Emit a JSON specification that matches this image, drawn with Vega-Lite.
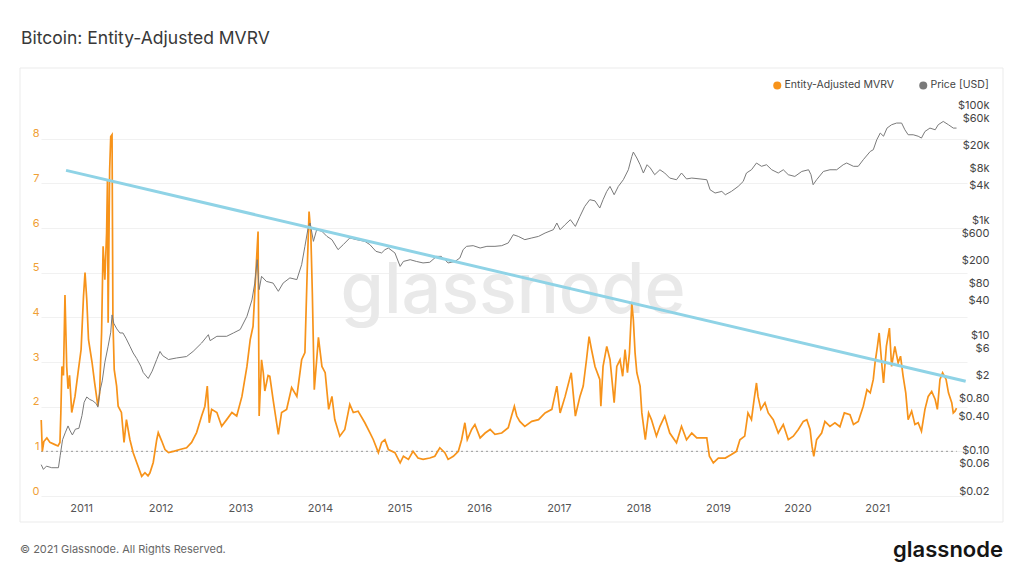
{
  "$schema": "https://vega.github.io/schema/vega-lite/v6.json",
  "usermeta": {"embedOptions": {"renderer": "svg", "actions": false}},
  "width": 926,
  "height": 402,
  "autosize": "none",
  "padding": {"left": 41, "top": 94, "right": 57, "bottom": 80},
  "title": {
    "text": "Bitcoin: Entity-Adjusted MVRV",
    "anchor": "start",
    "frame": "group",
    "dx": -20,
    "offset": 20,
    "fontSize": 17.5,
    "fontWeight": "normal",
    "color": "#383838"
  },
  "datasets": {
    "mvrv": [
      {"date": "2010-07-02", "mvrv": 1.7}, {"date": "2010-07-07", "mvrv": 1.0}, {"date": "2010-07-14", "mvrv": 1.22},
      {"date": "2010-07-28", "mvrv": 1.3}, {"date": "2010-08-11", "mvrv": 1.2}, {"date": "2010-09-03", "mvrv": 1.15},
      {"date": "2010-09-17", "mvrv": 1.12}, {"date": "2010-09-26", "mvrv": 1.2}, {"date": "2010-09-30", "mvrv": 1.85},
      {"date": "2010-10-05", "mvrv": 2.9}, {"date": "2010-10-12", "mvrv": 2.7}, {"date": "2010-10-19", "mvrv": 4.5},
      {"date": "2010-10-27", "mvrv": 2.9}, {"date": "2010-11-02", "mvrv": 2.4}, {"date": "2010-11-09", "mvrv": 2.7},
      {"date": "2010-11-19", "mvrv": 1.87}, {"date": "2010-12-04", "mvrv": 2.23}, {"date": "2010-12-18", "mvrv": 2.76},
      {"date": "2011-01-01", "mvrv": 3.28}, {"date": "2011-01-12", "mvrv": 4.47}, {"date": "2011-01-19", "mvrv": 5.0},
      {"date": "2011-01-27", "mvrv": 4.4}, {"date": "2011-02-04", "mvrv": 3.5}, {"date": "2011-02-20", "mvrv": 3.0},
      {"date": "2011-03-04", "mvrv": 2.54}, {"date": "2011-03-19", "mvrv": 2.01}, {"date": "2011-03-27", "mvrv": 2.31},
      {"date": "2011-04-05", "mvrv": 3.66}, {"date": "2011-04-12", "mvrv": 5.59}, {"date": "2011-04-20", "mvrv": 4.84},
      {"date": "2011-04-28", "mvrv": 5.89}, {"date": "2011-05-02", "mvrv": 7.08}, {"date": "2011-05-05", "mvrv": 3.88},
      {"date": "2011-05-12", "mvrv": 7.3}, {"date": "2011-05-17", "mvrv": 8.05}, {"date": "2011-05-23", "mvrv": 8.09},
      {"date": "2011-05-27", "mvrv": 3.95}, {"date": "2011-06-02", "mvrv": 2.83}, {"date": "2011-06-13", "mvrv": 2.46},
      {"date": "2011-06-20", "mvrv": 2.01}, {"date": "2011-07-05", "mvrv": 1.87}, {"date": "2011-07-17", "mvrv": 1.2},
      {"date": "2011-07-28", "mvrv": 1.71}, {"date": "2011-08-13", "mvrv": 1.26}, {"date": "2011-08-28", "mvrv": 0.97},
      {"date": "2011-09-13", "mvrv": 0.75}, {"date": "2011-10-06", "mvrv": 0.44}, {"date": "2011-10-21", "mvrv": 0.52},
      {"date": "2011-11-04", "mvrv": 0.45}, {"date": "2011-11-13", "mvrv": 0.52}, {"date": "2011-11-28", "mvrv": 0.75},
      {"date": "2011-12-14", "mvrv": 1.26}, {"date": "2011-12-21", "mvrv": 1.42}, {"date": "2012-01-06", "mvrv": 1.23},
      {"date": "2012-01-21", "mvrv": 1.04}, {"date": "2012-02-06", "mvrv": 0.97}, {"date": "2012-02-29", "mvrv": 1.0},
      {"date": "2012-03-29", "mvrv": 1.04}, {"date": "2012-04-29", "mvrv": 1.08}, {"date": "2012-05-22", "mvrv": 1.2},
      {"date": "2012-06-14", "mvrv": 1.42}, {"date": "2012-07-07", "mvrv": 1.79}, {"date": "2012-07-22", "mvrv": 2.01},
      {"date": "2012-08-02", "mvrv": 2.46}, {"date": "2012-08-11", "mvrv": 1.64}, {"date": "2012-08-22", "mvrv": 1.94},
      {"date": "2012-09-15", "mvrv": 1.87}, {"date": "2012-10-07", "mvrv": 1.56}, {"date": "2012-10-30", "mvrv": 1.71},
      {"date": "2012-11-23", "mvrv": 1.87}, {"date": "2012-12-15", "mvrv": 1.79}, {"date": "2013-01-08", "mvrv": 2.23},
      {"date": "2013-01-31", "mvrv": 2.9}, {"date": "2013-02-15", "mvrv": 3.5}, {"date": "2013-02-28", "mvrv": 3.8},
      {"date": "2013-03-08", "mvrv": 4.55}, {"date": "2013-03-16", "mvrv": 5.29}, {"date": "2013-03-23", "mvrv": 5.92},
      {"date": "2013-03-28", "mvrv": 1.79}, {"date": "2013-04-08", "mvrv": 3.05}, {"date": "2013-04-16", "mvrv": 2.76},
      {"date": "2013-04-23", "mvrv": 2.35}, {"date": "2013-05-08", "mvrv": 2.7}, {"date": "2013-05-16", "mvrv": 2.68},
      {"date": "2013-05-31", "mvrv": 2.16}, {"date": "2013-06-24", "mvrv": 1.38}, {"date": "2013-07-09", "mvrv": 1.87},
      {"date": "2013-08-01", "mvrv": 1.94}, {"date": "2013-08-24", "mvrv": 2.43}, {"date": "2013-09-17", "mvrv": 2.23},
      {"date": "2013-10-09", "mvrv": 3.05}, {"date": "2013-10-24", "mvrv": 3.21}, {"date": "2013-11-05", "mvrv": 5.29},
      {"date": "2013-11-12", "mvrv": 6.37}, {"date": "2013-11-20", "mvrv": 5.89}, {"date": "2013-11-27", "mvrv": 4.55},
      {"date": "2013-12-06", "mvrv": 2.38}, {"date": "2013-12-17", "mvrv": 3.05}, {"date": "2013-12-25", "mvrv": 3.55},
      {"date": "2014-01-10", "mvrv": 2.9}, {"date": "2014-01-25", "mvrv": 2.76}, {"date": "2014-02-10", "mvrv": 1.94},
      {"date": "2014-02-25", "mvrv": 2.23}, {"date": "2014-03-10", "mvrv": 1.71}, {"date": "2014-04-02", "mvrv": 1.34},
      {"date": "2014-04-25", "mvrv": 1.49}, {"date": "2014-05-18", "mvrv": 2.05}, {"date": "2014-06-03", "mvrv": 1.87},
      {"date": "2014-06-25", "mvrv": 1.9}, {"date": "2014-07-26", "mvrv": 1.64}, {"date": "2014-08-18", "mvrv": 1.42},
      {"date": "2014-09-03", "mvrv": 1.26}, {"date": "2014-09-26", "mvrv": 0.97}, {"date": "2014-10-11", "mvrv": 1.2},
      {"date": "2014-10-26", "mvrv": 1.26}, {"date": "2014-11-11", "mvrv": 1.04}, {"date": "2014-12-11", "mvrv": 0.97},
      {"date": "2015-01-04", "mvrv": 0.74}, {"date": "2015-01-19", "mvrv": 0.89}, {"date": "2015-02-11", "mvrv": 0.82},
      {"date": "2015-03-04", "mvrv": 1.0}, {"date": "2015-03-27", "mvrv": 0.85}, {"date": "2015-04-19", "mvrv": 0.82},
      {"date": "2015-05-20", "mvrv": 0.85}, {"date": "2015-06-12", "mvrv": 0.89}, {"date": "2015-07-05", "mvrv": 1.08},
      {"date": "2015-07-28", "mvrv": 0.97}, {"date": "2015-08-12", "mvrv": 0.82}, {"date": "2015-09-05", "mvrv": 0.89},
      {"date": "2015-09-28", "mvrv": 1.0}, {"date": "2015-10-13", "mvrv": 1.26}, {"date": "2015-10-28", "mvrv": 1.64},
      {"date": "2015-11-08", "mvrv": 1.26}, {"date": "2015-11-28", "mvrv": 1.49}, {"date": "2015-12-13", "mvrv": 1.6},
      {"date": "2016-01-06", "mvrv": 1.3}, {"date": "2016-01-29", "mvrv": 1.41}, {"date": "2016-02-21", "mvrv": 1.49},
      {"date": "2016-03-14", "mvrv": 1.38}, {"date": "2016-04-14", "mvrv": 1.41}, {"date": "2016-05-14", "mvrv": 1.53},
      {"date": "2016-05-29", "mvrv": 1.79}, {"date": "2016-06-11", "mvrv": 2.01}, {"date": "2016-06-22", "mvrv": 1.79},
      {"date": "2016-07-06", "mvrv": 1.67}, {"date": "2016-07-29", "mvrv": 1.56}, {"date": "2016-08-30", "mvrv": 1.67},
      {"date": "2016-09-30", "mvrv": 1.71}, {"date": "2016-10-30", "mvrv": 1.86}, {"date": "2016-11-30", "mvrv": 1.94},
      {"date": "2016-12-23", "mvrv": 2.46}, {"date": "2017-01-07", "mvrv": 1.86}, {"date": "2017-01-30", "mvrv": 2.23},
      {"date": "2017-02-27", "mvrv": 2.76}, {"date": "2017-03-18", "mvrv": 1.79}, {"date": "2017-04-08", "mvrv": 2.23},
      {"date": "2017-04-23", "mvrv": 2.46}, {"date": "2017-05-08", "mvrv": 3.05}, {"date": "2017-05-20", "mvrv": 3.57},
      {"date": "2017-05-31", "mvrv": 3.28}, {"date": "2017-06-16", "mvrv": 2.9}, {"date": "2017-07-08", "mvrv": 2.61},
      {"date": "2017-07-13", "mvrv": 2.01}, {"date": "2017-07-23", "mvrv": 2.9}, {"date": "2017-08-09", "mvrv": 3.35},
      {"date": "2017-08-24", "mvrv": 3.05}, {"date": "2017-09-12", "mvrv": 2.09}, {"date": "2017-09-24", "mvrv": 2.9},
      {"date": "2017-10-09", "mvrv": 3.05}, {"date": "2017-10-21", "mvrv": 2.68}, {"date": "2017-11-01", "mvrv": 3.28},
      {"date": "2017-11-12", "mvrv": 2.76}, {"date": "2017-11-21", "mvrv": 3.2}, {"date": "2017-12-02", "mvrv": 4.32},
      {"date": "2017-12-09", "mvrv": 3.95}, {"date": "2017-12-17", "mvrv": 3.2}, {"date": "2017-12-25", "mvrv": 2.76},
      {"date": "2018-01-09", "mvrv": 2.46}, {"date": "2018-01-17", "mvrv": 1.86}, {"date": "2018-02-02", "mvrv": 1.26},
      {"date": "2018-02-17", "mvrv": 1.86}, {"date": "2018-03-02", "mvrv": 1.71}, {"date": "2018-03-25", "mvrv": 1.34},
      {"date": "2018-04-10", "mvrv": 1.56}, {"date": "2018-05-02", "mvrv": 1.79}, {"date": "2018-05-25", "mvrv": 1.41},
      {"date": "2018-06-25", "mvrv": 1.19}, {"date": "2018-07-18", "mvrv": 1.56}, {"date": "2018-08-10", "mvrv": 1.26},
      {"date": "2018-09-03", "mvrv": 1.41}, {"date": "2018-09-26", "mvrv": 1.3}, {"date": "2018-11-11", "mvrv": 1.3},
      {"date": "2018-11-23", "mvrv": 0.89}, {"date": "2018-12-11", "mvrv": 0.74}, {"date": "2019-01-03", "mvrv": 0.85},
      {"date": "2019-02-04", "mvrv": 0.85}, {"date": "2019-03-04", "mvrv": 0.93}, {"date": "2019-03-27", "mvrv": 1.0},
      {"date": "2019-04-12", "mvrv": 1.26}, {"date": "2019-05-04", "mvrv": 1.34}, {"date": "2019-05-19", "mvrv": 1.86},
      {"date": "2019-06-04", "mvrv": 1.71}, {"date": "2019-06-16", "mvrv": 2.16}, {"date": "2019-06-27", "mvrv": 2.53},
      {"date": "2019-07-04", "mvrv": 2.23}, {"date": "2019-07-17", "mvrv": 1.94}, {"date": "2019-08-05", "mvrv": 2.09},
      {"date": "2019-08-20", "mvrv": 1.86}, {"date": "2019-09-12", "mvrv": 1.71}, {"date": "2019-10-05", "mvrv": 1.41},
      {"date": "2019-10-28", "mvrv": 1.6}, {"date": "2019-11-20", "mvrv": 1.26}, {"date": "2019-12-13", "mvrv": 1.34},
      {"date": "2020-01-05", "mvrv": 1.49}, {"date": "2020-01-28", "mvrv": 1.67}, {"date": "2020-02-13", "mvrv": 1.71},
      {"date": "2020-02-28", "mvrv": 1.49}, {"date": "2020-03-08", "mvrv": 1.11}, {"date": "2020-03-16", "mvrv": 0.89},
      {"date": "2020-03-29", "mvrv": 1.26}, {"date": "2020-04-21", "mvrv": 1.41}, {"date": "2020-05-06", "mvrv": 1.67},
      {"date": "2020-05-29", "mvrv": 1.56}, {"date": "2020-06-21", "mvrv": 1.64}, {"date": "2020-07-14", "mvrv": 1.55},
      {"date": "2020-08-03", "mvrv": 1.86}, {"date": "2020-08-29", "mvrv": 1.82}, {"date": "2020-09-14", "mvrv": 1.6},
      {"date": "2020-10-06", "mvrv": 1.67}, {"date": "2020-10-29", "mvrv": 2.01}, {"date": "2020-11-15", "mvrv": 2.38},
      {"date": "2020-11-30", "mvrv": 2.31}, {"date": "2020-12-14", "mvrv": 2.61}, {"date": "2020-12-22", "mvrv": 2.98},
      {"date": "2021-01-02", "mvrv": 3.35}, {"date": "2021-01-10", "mvrv": 3.65}, {"date": "2021-01-23", "mvrv": 2.9},
      {"date": "2021-01-30", "mvrv": 2.53}, {"date": "2021-02-12", "mvrv": 3.35}, {"date": "2021-02-26", "mvrv": 3.76},
      {"date": "2021-03-08", "mvrv": 2.9}, {"date": "2021-03-23", "mvrv": 3.35}, {"date": "2021-04-07", "mvrv": 2.98},
      {"date": "2021-04-18", "mvrv": 3.13}, {"date": "2021-04-30", "mvrv": 2.68}, {"date": "2021-05-12", "mvrv": 2.31},
      {"date": "2021-05-23", "mvrv": 1.71}, {"date": "2021-06-08", "mvrv": 1.9}, {"date": "2021-06-23", "mvrv": 1.6},
      {"date": "2021-07-08", "mvrv": 1.64}, {"date": "2021-07-23", "mvrv": 1.45}, {"date": "2021-08-08", "mvrv": 1.94},
      {"date": "2021-08-23", "mvrv": 2.23}, {"date": "2021-09-08", "mvrv": 2.34}, {"date": "2021-09-24", "mvrv": 2.16},
      {"date": "2021-10-04", "mvrv": 1.94}, {"date": "2021-10-16", "mvrv": 2.61}, {"date": "2021-10-28", "mvrv": 2.76},
      {"date": "2021-11-13", "mvrv": 2.61}, {"date": "2021-11-24", "mvrv": 2.31}, {"date": "2021-12-09", "mvrv": 2.09},
      {"date": "2021-12-16", "mvrv": 1.86}, {"date": "2021-12-24", "mvrv": 1.9}, {"date": "2021-12-31", "mvrv": 1.97}
    ],
    "price": [
      {"date": "2010-07-02", "price": 0.07}, {"date": "2010-07-12", "price": 0.058}, {"date": "2010-07-26", "price": 0.066},
      {"date": "2010-08-19", "price": 0.062}, {"date": "2010-09-19", "price": 0.062}, {"date": "2010-09-27", "price": 0.1},
      {"date": "2010-10-08", "price": 0.19}, {"date": "2010-10-20", "price": 0.25}, {"date": "2010-11-02", "price": 0.33},
      {"date": "2010-11-12", "price": 0.27}, {"date": "2010-11-22", "price": 0.23}, {"date": "2010-12-06", "price": 0.29},
      {"date": "2010-12-22", "price": 0.3}, {"date": "2011-01-05", "price": 0.5}, {"date": "2011-01-15", "price": 0.85},
      {"date": "2011-01-27", "price": 1.05}, {"date": "2011-02-10", "price": 0.95}, {"date": "2011-02-24", "price": 0.9},
      {"date": "2011-03-12", "price": 0.8}, {"date": "2011-03-19", "price": 0.7}, {"date": "2011-03-28", "price": 1.3},
      {"date": "2011-04-08", "price": 2.0}, {"date": "2011-04-20", "price": 4.2}, {"date": "2011-05-05", "price": 8.0},
      {"date": "2011-05-17", "price": 14}, {"date": "2011-05-23", "price": 28}, {"date": "2011-05-31", "price": 20},
      {"date": "2011-06-14", "price": 16}, {"date": "2011-06-28", "price": 13.6}, {"date": "2011-07-12", "price": 13.6},
      {"date": "2011-07-26", "price": 11}, {"date": "2011-08-13", "price": 8}, {"date": "2011-08-28", "price": 6.1},
      {"date": "2011-09-13", "price": 4.9}, {"date": "2011-10-02", "price": 3.6}, {"date": "2011-10-13", "price": 2.8},
      {"date": "2011-11-05", "price": 2.2}, {"date": "2011-11-23", "price": 2.95}, {"date": "2011-12-14", "price": 4.7},
      {"date": "2011-12-29", "price": 6.5}, {"date": "2012-01-10", "price": 5.5}, {"date": "2012-02-06", "price": 4.7},
      {"date": "2012-03-14", "price": 5.0}, {"date": "2012-04-29", "price": 5.3}, {"date": "2012-05-29", "price": 6.5},
      {"date": "2012-07-07", "price": 9.1}, {"date": "2012-08-07", "price": 12.7}, {"date": "2012-08-15", "price": 10},
      {"date": "2012-09-15", "price": 11.9}, {"date": "2012-10-30", "price": 11.9}, {"date": "2012-11-30", "price": 13.6},
      {"date": "2012-12-31", "price": 15.6}, {"date": "2013-01-31", "price": 26.5}, {"date": "2013-02-23", "price": 51},
      {"date": "2013-03-08", "price": 100}, {"date": "2013-03-19", "price": 255}, {"date": "2013-03-28", "price": 77},
      {"date": "2013-04-08", "price": 131}, {"date": "2013-04-30", "price": 107}, {"date": "2013-05-31", "price": 100},
      {"date": "2013-06-24", "price": 72}, {"date": "2013-07-16", "price": 100}, {"date": "2013-08-16", "price": 123},
      {"date": "2013-09-17", "price": 115}, {"date": "2013-10-09", "price": 209}, {"date": "2013-10-24", "price": 435},
      {"date": "2013-11-09", "price": 966}, {"date": "2013-11-17", "price": 1106}, {"date": "2013-12-02", "price": 531},
      {"date": "2013-12-17", "price": 847}, {"date": "2014-01-10", "price": 792}, {"date": "2014-02-02", "price": 648},
      {"date": "2014-02-25", "price": 568}, {"date": "2014-03-25", "price": 381}, {"date": "2014-04-18", "price": 466},
      {"date": "2014-05-18", "price": 608}, {"date": "2014-06-18", "price": 568}, {"date": "2014-07-26", "price": 531},
      {"date": "2014-08-18", "price": 466}, {"date": "2014-09-15", "price": 356}, {"date": "2014-10-11", "price": 334},
      {"date": "2014-10-26", "price": 380}, {"date": "2014-11-11", "price": 407}, {"date": "2014-12-11", "price": 334},
      {"date": "2015-01-04", "price": 195}, {"date": "2015-01-19", "price": 238}, {"date": "2015-02-19", "price": 255},
      {"date": "2015-03-19", "price": 238}, {"date": "2015-04-19", "price": 224}, {"date": "2015-05-20", "price": 230},
      {"date": "2015-06-20", "price": 291}, {"date": "2015-07-12", "price": 291}, {"date": "2015-08-12", "price": 224},
      {"date": "2015-09-13", "price": 238}, {"date": "2015-10-05", "price": 273}, {"date": "2015-10-20", "price": 381},
      {"date": "2015-11-05", "price": 435}, {"date": "2015-12-05", "price": 447}, {"date": "2016-01-06", "price": 407},
      {"date": "2016-02-06", "price": 435}, {"date": "2016-03-14", "price": 435}, {"date": "2016-04-14", "price": 447},
      {"date": "2016-05-14", "price": 498}, {"date": "2016-06-06", "price": 693}, {"date": "2016-06-29", "price": 648},
      {"date": "2016-07-29", "price": 568}, {"date": "2016-08-30", "price": 608}, {"date": "2016-09-30", "price": 648},
      {"date": "2016-10-30", "price": 741}, {"date": "2016-12-07", "price": 847}, {"date": "2016-12-23", "price": 1106},
      {"date": "2017-01-07", "price": 847}, {"date": "2017-01-30", "price": 1035}, {"date": "2017-02-23", "price": 1262},
      {"date": "2017-03-18", "price": 966}, {"date": "2017-04-08", "price": 1442}, {"date": "2017-04-30", "price": 2150},
      {"date": "2017-05-23", "price": 2810}, {"date": "2017-06-16", "price": 2680}, {"date": "2017-07-08", "price": 2015},
      {"date": "2017-07-23", "price": 2810}, {"date": "2017-08-09", "price": 3917}, {"date": "2017-08-24", "price": 4780},
      {"date": "2017-09-12", "price": 3428}, {"date": "2017-10-01", "price": 4780}, {"date": "2017-10-24", "price": 6250},
      {"date": "2017-11-16", "price": 9310}, {"date": "2017-12-02", "price": 15850}, {"date": "2017-12-09", "price": 18900},
      {"date": "2017-12-25", "price": 14900}, {"date": "2018-01-09", "price": 11380}, {"date": "2018-01-24", "price": 8170},
      {"date": "2018-02-10", "price": 11380}, {"date": "2018-02-25", "price": 9980}, {"date": "2018-03-17", "price": 7640},
      {"date": "2018-04-10", "price": 9310}, {"date": "2018-05-02", "price": 8170}, {"date": "2018-05-25", "price": 6680},
      {"date": "2018-06-25", "price": 6250}, {"date": "2018-07-18", "price": 8170}, {"date": "2018-08-10", "price": 6450},
      {"date": "2018-09-03", "price": 6680}, {"date": "2018-10-11", "price": 6450}, {"date": "2018-11-11", "price": 6250},
      {"date": "2018-11-26", "price": 4190}, {"date": "2018-12-19", "price": 3670}, {"date": "2019-01-19", "price": 3917},
      {"date": "2019-02-04", "price": 3428}, {"date": "2019-03-04", "price": 3917}, {"date": "2019-04-04", "price": 4780},
      {"date": "2019-04-27", "price": 5830}, {"date": "2019-05-12", "price": 8170}, {"date": "2019-06-04", "price": 9310},
      {"date": "2019-06-27", "price": 12190}, {"date": "2019-07-20", "price": 10690}, {"date": "2019-08-12", "price": 11380},
      {"date": "2019-09-05", "price": 9310}, {"date": "2019-10-05", "price": 8170}, {"date": "2019-10-28", "price": 9310},
      {"date": "2019-11-20", "price": 7640}, {"date": "2019-12-20", "price": 7130}, {"date": "2020-01-21", "price": 8700},
      {"date": "2020-02-21", "price": 9310}, {"date": "2020-03-03", "price": 7640}, {"date": "2020-03-13", "price": 5120},
      {"date": "2020-03-29", "price": 6250}, {"date": "2020-04-29", "price": 8700}, {"date": "2020-05-29", "price": 9310},
      {"date": "2020-06-29", "price": 9310}, {"date": "2020-07-29", "price": 11380}, {"date": "2020-08-14", "price": 12190},
      {"date": "2020-09-14", "price": 10690}, {"date": "2020-10-06", "price": 10690}, {"date": "2020-10-29", "price": 13900},
      {"date": "2020-11-30", "price": 19360}, {"date": "2020-12-14", "price": 20750}, {"date": "2020-12-30", "price": 30900},
      {"date": "2021-01-15", "price": 40450}, {"date": "2021-01-30", "price": 35600}, {"date": "2021-02-15", "price": 49300},
      {"date": "2021-03-08", "price": 56360}, {"date": "2021-03-31", "price": 60300}, {"date": "2021-04-23", "price": 60300},
      {"date": "2021-05-08", "price": 46100}, {"date": "2021-05-23", "price": 37760}, {"date": "2021-06-15", "price": 37760},
      {"date": "2021-07-08", "price": 35600}, {"date": "2021-07-23", "price": 33100}, {"date": "2021-08-08", "price": 43050},
      {"date": "2021-08-31", "price": 49300}, {"date": "2021-09-24", "price": 46100}, {"date": "2021-10-08", "price": 56360},
      {"date": "2021-10-31", "price": 64300}, {"date": "2021-11-24", "price": 56360}, {"date": "2021-12-16", "price": 49300},
      {"date": "2021-12-31", "price": 49300}
    ],
    "trend": [
      {"date": "2010-10-24", "mvrv": 7.29},
      {"date": "2022-02-11", "mvrv": 2.57}
    ],
    "breakeven": [
      {"start": "2010-07-01", "end": "2022-01-01", "level": 1}
    ]
  },
  "layer": [
    {
      "layer": [
        {
          "data": {"values": [{}]},
          "mark": {"type": "rect", "filled": false, "stroke": "#ebebeb", "strokeWidth": 1},
          "encoding": {"x": {"value": -21}, "x2": {"value": 962}, "y": {"value": -26}, "y2": {"value": 428}}
        },
        {
          "data": {"values": [{}]},
          "mark": {"type": "text", "text": "© 2021 Glassnode. All Rights Reserved.", "align": "left", "baseline": "middle", "fontSize": 11, "color": "#666666"},
          "encoding": {"x": {"value": -21}, "y": {"value": 456}}
        },
        {
          "data": {"values": [{}]},
          "mark": {"type": "text", "text": "glassnode", "align": "right", "baseline": "alphabetic", "fontSize": 22, "fontWeight": 600, "color": "#151515"},
          "encoding": {"x": {"value": 962}, "y": {"value": 463}}
        },
        {
          "data": {"values": [{}]},
          "mark": {"type": "text", "text": "glassnode", "align": "center", "baseline": "alphabetic", "fontSize": 70, "fontWeight": 500, "color": "#e9e9e9"},
          "encoding": {
            "x": {"datum": {"year": 2016, "month": 6, "date": 5}, "type": "temporal"},
            "y": {"datum": 4.1, "type": "quantitative"}
          }
        },
        {
          "data": {"name": "breakeven"},
          "mark": {"type": "rule", "color": "#9a9a9a", "strokeWidth": 1, "strokeDash": [2, 3]},
          "encoding": {
            "x": {"field": "start", "type": "temporal", "title": null},
            "x2": {"field": "end"},
            "y": {"field": "level", "type": "quantitative", "title": null}
          }
        },
        {
          "data": {"name": "mvrv"},
          "mark": {"type": "line", "strokeWidth": 1.7},
          "encoding": {
            "x": {
              "field": "date",
              "type": "temporal",
              "title": null,
              "scale": {"domain": [{"year": 2010, "month": 7, "date": 1}, {"year": 2022, "month": 2, "date": 17}]},
              "axis": {
                "values": [
                  {"year": 2011, "month": 1, "date": 1}, {"year": 2012, "month": 1, "date": 1}, {"year": 2013, "month": 1, "date": 1},
                  {"year": 2014, "month": 1, "date": 1}, {"year": 2015, "month": 1, "date": 1}, {"year": 2016, "month": 1, "date": 1},
                  {"year": 2017, "month": 1, "date": 1}, {"year": 2018, "month": 1, "date": 1}, {"year": 2019, "month": 1, "date": 1},
                  {"year": 2020, "month": 1, "date": 1}, {"year": 2021, "month": 1, "date": 1}
                ],
                "format": "%Y",
                "labelColor": "#555555",
                "labelFontSize": 11,
                "labelPadding": 6,
                "ticks": false,
                "tickSize": 0,
                "domain": false,
                "grid": false
              }
            },
            "y": {
              "field": "mvrv",
              "type": "quantitative",
              "title": null,
              "scale": {"domain": [0, 9], "nice": false},
              "axis": {
                "orient": "left",
                "values": [0, 1, 2, 3, 4, 5, 6, 7, 8],
                "labelColor": "#f0a035",
                "labelFontSize": 11,
                "labelPadding": 2,
                "labelOffset": -5,
                "ticks": false,
                "tickSize": 0,
                "domain": false,
                "grid": true,
                "gridColor": "#f1f1f1"
              }
            },
            "color": {
              "datum": "Entity-Adjusted MVRV",
              "type": "nominal",
              "scale": {"domain": ["Entity-Adjusted MVRV", "Price [USD]"], "range": ["#f7931a", "#7a7a7a"]},
              "legend": {
                "orient": "none",
                "legendX": 731,
                "legendY": -14,
                "direction": "horizontal",
                "title": null,
                "symbolType": "circle",
                "symbolSize": 64,
                "symbolStrokeWidth": 0,
                "labelFontSize": 10.5,
                "labelColor": "#444444",
                "labelOffset": 2,
                "columnPadding": 24,
                "padding": 0,
                "encode": {"symbols": {"update": {"fill": {"scale": "color", "field": "value"}, "fillOpacity": {"value": 1}}}}
              }
            }
          }
        }
      ]
    },
    {
      "data": {"name": "price"},
      "mark": {"type": "line", "strokeWidth": 1},
      "encoding": {
        "x": {"field": "date", "type": "temporal", "title": null},
        "y": {
          "field": "price",
          "type": "quantitative",
          "title": null,
          "scale": {"type": "log", "domain": [0.02, 192800], "nice": false},
          "axis": {
            "orient": "right",
            "values": [0.02, 0.06, 0.1, 0.4, 0.8, 2, 6, 10, 40, 80, 200, 600, 1000, 4000, 8000, 20000, 60000, 100000],
            "labelExpr": "datum.value >= 1000 ? '$' + format(datum.value / 1000, 'd') + 'k' : (datum.value >= 1 ? '$' + format(datum.value, 'd') : '$' + format(datum.value, '.2f'))",
            "labelAlign": "right",
            "labelPadding": 22,
            "labelOffset": -5,
            "labelColor": "#444444",
            "labelFontSize": 11,
            "ticks": false,
            "tickSize": 0,
            "domain": false,
            "grid": false
          }
        },
        "color": {"datum": "Price [USD]", "type": "nominal"}
      }
    },
    {
      "data": {"name": "trend"},
      "mark": {"type": "line", "color": "#8fd3e6", "strokeWidth": 3},
      "encoding": {
        "x": {"field": "date", "type": "temporal", "title": null},
        "y": {"field": "mvrv", "type": "quantitative", "scale": {"domain": [0, 9], "nice": false}, "axis": null}
      }
    }
  ],
  "resolve": {"scale": {"y": "independent"}},
  "config": {
    "font": "Inter",
    "view": {"stroke": null},
    "axis": {"labelFont": "Inter"},
    "legend": {"labelFont": "Inter"}
  }
}
